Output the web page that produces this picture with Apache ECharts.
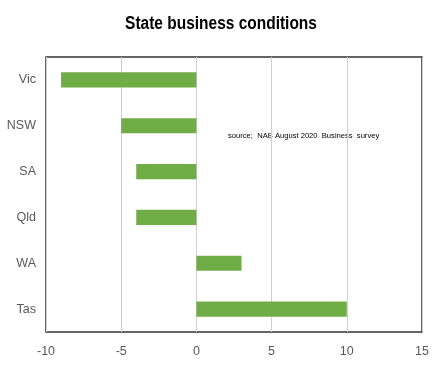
<!DOCTYPE html>
<html><head><meta charset="utf-8">
<script src="https://cdn.jsdelivr.net/npm/echarts@6/dist/echarts.min.js"></script>
<style>html,body{margin:0;padding:0;background:#fff}#c{width:443px;height:369px}</style>
</head><body><div id="c"></div>
<script>
const states = ['Vic', 'NSW', 'SA', 'Qld', 'WA', 'Tas'];
const conditions = [-9, -5, -4, -4, 3, 10];
const xMin = -10, xMax = 15, xStep = 5;
const titleText = 'State business conditions';
const sourceText = 'source;  NAB August 2020  Business  survey';

const chart = echarts.init(document.getElementById('c'));
chart.setOption({
  animation: false,
  backgroundColor: '#fff',
  graphic: [{
    type: 'text', x: 221, y: 24, scaleX: 0.86,
    style: {text: titleText, font: 'bold 18px "Liberation Sans", Arial, sans-serif', fill: '#000', textAlign: 'center', textVerticalAlign: 'middle'}
  }, {
    type: 'text', x: 228, y: 136, scaleX: 0.95,
    style: {text: sourceText, font: '8px "Liberation Sans", sans-serif', fill: '#000', textAlign: 'left', textVerticalAlign: 'middle'}
  }],
  grid: {left: 46, right: 21, top: 57, bottom: 37, show: true, borderColor: '#333', borderWidth: 1.5},
  xAxis: {
    type: 'value', min: xMin, max: xMax, interval: xStep,
    axisLine: {show: false}, axisTick: {show: false},
    splitLine: {lineStyle: {color: '#d0d0d0', width: 1}},
    axisLabel: {color: '#595959', fontSize: 12.5, fontFamily: 'Liberation Sans, Arial', margin: 13}
  },
  yAxis: {
    type: 'category', data: states, inverse: true,
    axisLine: {show: false}, axisTick: {show: false},
    axisLabel: {color: '#595959', fontSize: 12.5, fontFamily: 'Liberation Sans, Arial', margin: 10}
  },
  series: [{
    type: 'bar', data: conditions, barWidth: '33%',
    itemStyle: {color: '#70AD47'}
  }]
});
</script></body></html>
